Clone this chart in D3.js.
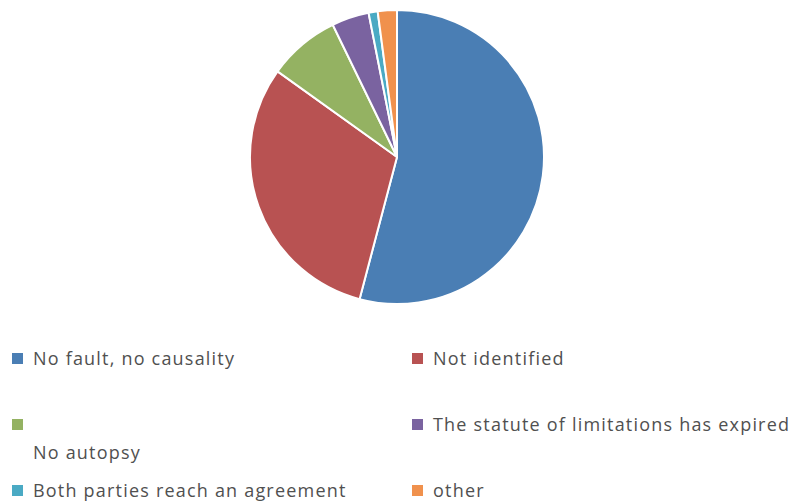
<!DOCTYPE html>
<html>
<head>
<meta charset="utf-8">
<script src="https://cdn.jsdelivr.net/npm/d3@7"></script>
<style>
  body { margin: 0; background: #fff; }
  text { font-family: "Open Sans", sans-serif; fill: #505050; }
</style>
</head>
<body>
<svg id="chart" width="799" height="501"></svg>
<script>
// slice shares (%)
const categories = ["No fault, no causality", "Not identified", "\nNo autopsy",
  "The statute of limitations has expired", "Both parties reach an agreement", "other"]
const values = [54.1, 30.8, 7.9, 4.1, 1.0, 2.1]
const colors = ["#4a7eb4", "#b85252", "#94b262", "#7a63a0", "#4aaac4", "#f0914d"]

const svg = d3.select("#chart")
const cx = 397, cy = 157, radius = 147

const pie = d3.pie().sort(null).value(d => d.value)
const arc = d3.arc().innerRadius(0).outerRadius(radius)

const data = categories.map((c, i) => ({ label: c, value: values[i], color: colors[i] }))

svg.append("g")
  .attr("transform", `translate(${cx},${cy})`)
  .selectAll("path")
  .data(pie(data))
  .enter()
  .append("path")
    .attr("d", arc)
    .attr("fill", d => d.data.color)
    .attr("stroke", "#fff")
    .attr("stroke-width", 2)
    .attr("stroke-linejoin", "round")

// legend: two columns, three rows
const colX = d3.scaleOrdinal().domain([0, 1]).range([12, 412])
const rowY = d3.scaleLinear().domain([0, 2]).range([365, 497])
const lineH = 28

const items = svg.append("g").selectAll("g.item")
  .data(data)
  .enter()
  .append("g")
    .attr("class", "item")
    .attr("transform", (d, i) => `translate(${colX(i % 2)},${rowY(Math.floor(i / 2))})`)

items.append("rect")
  .attr("x", 0)
  .attr("y", -12)
  .attr("width", 11)
  .attr("height", 11)
  .attr("fill", d => d.color)

items.append("text")
  .attr("font-size", 18)
  .attr("letter-spacing", 1.2)
  .each(function (d) {
    const t = d3.select(this)
    d.label.split("\n").forEach((ln, j) => {
      t.append("tspan")
        .attr("x", 21)
        .attr("y", j * lineH)
        .text(ln)
    })
  })
</script>
</body>
</html>
